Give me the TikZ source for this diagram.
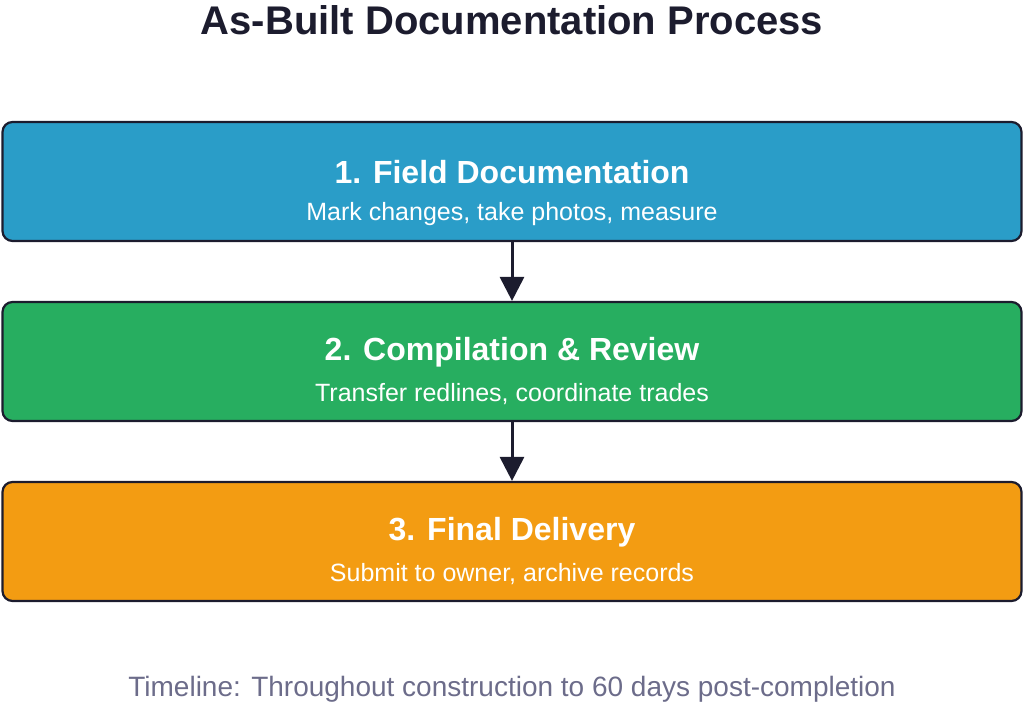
\documentclass[tikz,border=0pt]{standalone}
\usepackage{fontspec}
\setmainfont{Liberation Sans}
\usetikzlibrary{arrows.meta}
\definecolor{ink}{HTML}{1C1C2E}
\definecolor{cblue}{HTML}{2A9DC8}
\definecolor{cgreen}{HTML}{27AE60}
\definecolor{corange}{HTML}{F39C12}
\definecolor{cgrey}{HTML}{6C6C8A}
\begin{document}
\begin{tikzpicture}[x=1pt,y=-1pt,
  stage/.style={draw=ink,line width=2.2pt,rounded corners=10pt,minimum width=1019pt,minimum height=119pt,inner sep=0pt,text=white,align=center},
  flow/.style={draw=ink,line width=3pt,-{Triangle[length=24pt,width=24pt]}},
  ttl/.style={font=\fontsize{32}{38}\selectfont\bfseries},
  sub/.style={font=\fontsize{25}{30}\selectfont}]
\useasboundingbox (0,0) rectangle (1024,707);
\node[text=ink,font=\fontsize{40}{48}\selectfont\bfseries] (title) at (512,20) {As-Built Documentation Process};
\node[stage,fill=cblue] (s1) at (512,181.5) {};
\node[stage,fill=cgreen] (s2) at (512,361.5) {};
\node[stage,fill=corange] (s3) at (512,541.5) {};
\node[ttl,text=white] (t1) at (512,172) {1. Field Documentation};
\node[sub,text=white] (u1) at (512,214) {Mark changes, take photos, measure};
\node[ttl,text=white] (t2) at (512,352) {2. Compilation \& Review};
\node[sub,text=white] (u2) at (512,394) {Transfer redlines, coordinate trades};
\node[ttl,text=white] (t3) at (512,532) {3. Final Delivery};
\node[sub,text=white] (u3) at (512,574) {Submit to owner, archive records};
\draw[flow] (s1.south) -- (s2.north);
\draw[flow] (s2.south) -- (s3.north);
\node[text=cgrey,font=\fontsize{28}{34}\selectfont] (tl) at (512,689) {Timeline: Throughout construction to 60 days post-completion};
\end{tikzpicture}
\end{document}
